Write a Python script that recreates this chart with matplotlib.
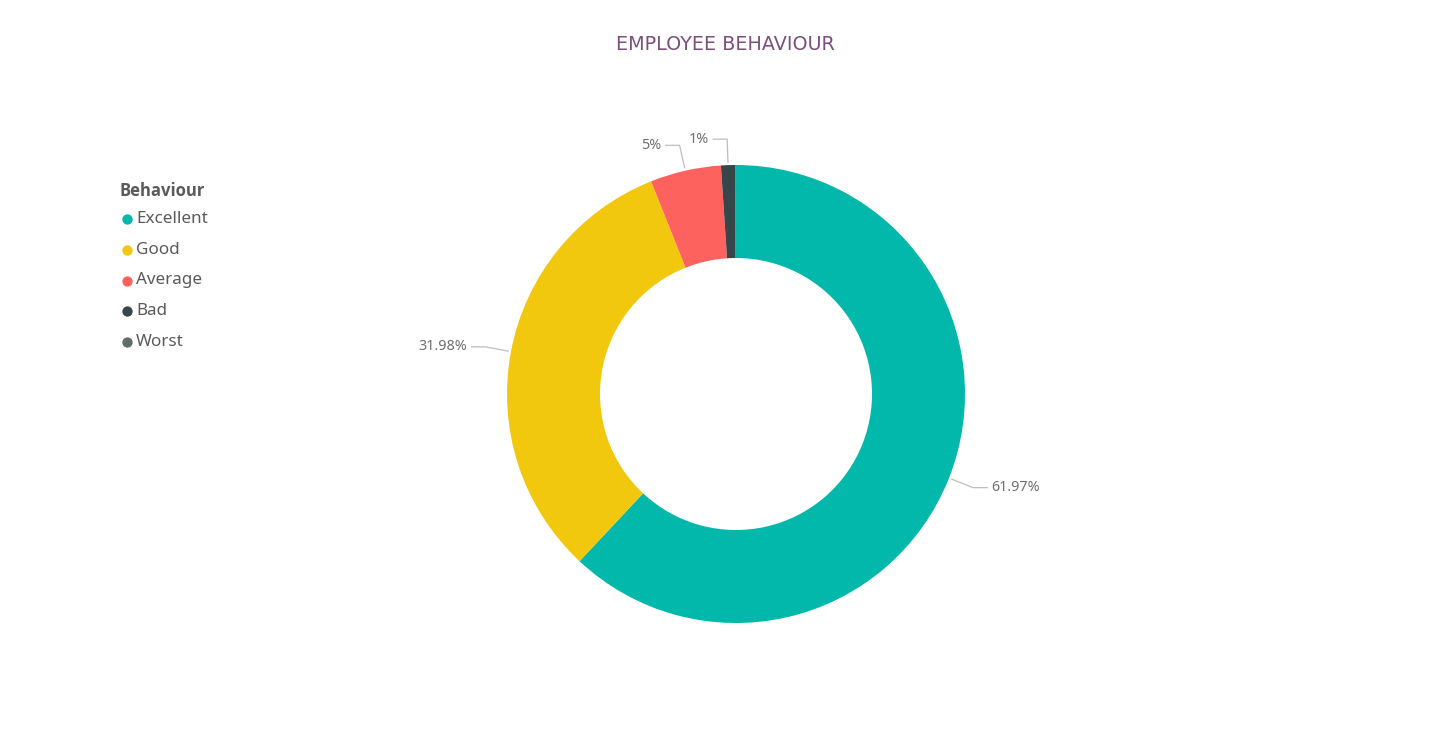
import numpy as np
import matplotlib
matplotlib.use('Agg')
import matplotlib.pyplot as plt

# chart data
categories = ['Excellent', 'Good', 'Average', 'Bad', 'Worst']
shares = [61.97, 31.98, 5.0, 1.0, 0.05]
labels = ['61.97%', '31.98%', '5%', '1%', '']
colors = ['#01B8AA', '#F2C80F', '#FD625E', '#374649', '#5F6B6D']

W, H = 1450, 750
cx, cy = 736, 750 - 394  # donut centre in pixels (y up)
r_out = 229
ring = 93

plt.rcParams['font.family'] = ['Noto Sans', 'DejaVu Sans']

fig = plt.figure(figsize=(W / 100, H / 100), dpi=100)
ax = fig.add_axes([0, 0, 1, 1])
ax.set_xlim(0, W)
ax.set_ylim(0, H)
ax.set_aspect('equal')
ax.axis('off')

wedges, _ = ax.pie(shares, colors=colors, startangle=90, counterclock=False,
                   center=(cx, cy), radius=r_out,
                   wedgeprops=dict(width=ring, linewidth=0))
ax.set_xlim(0, W)
ax.set_ylim(0, H)

# data labels with elbow leader lines
for w, lab in zip(wedges, labels):
    if not lab:
        continue
    ang = np.deg2rad((w.theta1 + w.theta2) / 2)
    x1, y1 = cx + (r_out + 3) * np.cos(ang), cy + (r_out + 3) * np.sin(ang)
    x2, y2 = cx + (r_out + 26) * np.cos(ang), cy + (r_out + 26) * np.sin(ang)
    side = 1 if np.cos(ang) >= 0 else -1
    x3 = x2 + side * 14
    ax.plot([x1, x2, x3], [y1, y2, y2], color='#bdbdbd', lw=0.9)
    ax.text(x3 + side * 4, y2, lab, ha='left' if side > 0 else 'right',
            va='center', fontsize=10.3, color='#6f6f6f')

# title
fig.text(725 / W, 1 - 44 / H, 'EMPLOYEE BEHAVIOUR', ha='center', va='center',
         fontsize=13.8, color='#7A4F7C', family='DejaVu Sans')

# legend
ax.text(120, H - 191, 'Behaviour', ha='left', va='center', fontsize=12,
        fontweight='bold', color='#5a5a5a', family=['Open Sans', 'DejaVu Sans'])
for i, (cat, col) in enumerate(zip(categories, colors)):
    y = H - (219 + i * 30.75)
    ax.scatter([127], [y], s=55, color=col, linewidths=0)
    ax.text(136, y, cat, ha='left', va='center', fontsize=12.3, color='#5a5a5a')

fig.savefig('out.png', dpi=100, facecolor='white')
